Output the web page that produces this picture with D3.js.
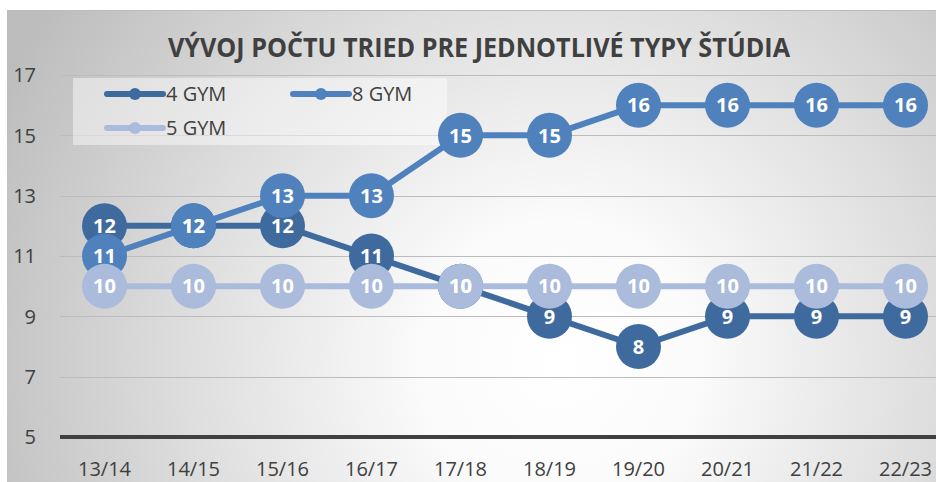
<!DOCTYPE html>
<html>
<head>
<meta charset="utf-8">
<script src="https://cdn.jsdelivr.net/npm/d3@7"></script>
<style>
  html, body { margin: 0; padding: 0; background: #fff; }
  svg { display: block; }
  text { font-family: "Open Sans", "DejaVu Sans", sans-serif; }
</style>
</head>
<body>
<div id="chart"></div>
<script>
const categories = ["13/14","14/15","15/16","16/17","17/18","18/19","19/20","20/21","21/22","22/23"];
const gym4 = [12,12,12,11,10,9,8,9,9,9];
const gym8 = [11,12,13,13,15,15,16,16,16,16];
const gym5 = [10,10,10,10,10,10,10,10,10,10];
const yTicks = [5,7,9,11,13,15,17];
const seriesNames = ["4 GYM","8 GYM","5 GYM"];
const seriesColors = ["#3F6A9D","#4F81BD","#AABBDB"];
const title = "VÝVOJ POČTU TRIED PRE JEDNOTLIVÉ TYPY ŠTÚDIA";

const W = 936, H = 482;
const series = [
  {name: seriesNames[0], values: gym4, color: seriesColors[0]},
  {name: seriesNames[1], values: gym8, color: seriesColors[1]},
  {name: seriesNames[2], values: gym5, color: seriesColors[2]}
];

const svg = d3.select("#chart").append("svg").attr("width", W).attr("height", H);
const defs = svg.append("defs");
const rg = defs.append("radialGradient").attr("id","bg")
  .attr("gradientUnits","userSpaceOnUse")
  .attr("cx", 560).attr("cy", 360).attr("r", 620);
rg.append("stop").attr("offset","0%").attr("stop-color","#ffffff");
rg.append("stop").attr("offset","22%").attr("stop-color","#fbfbfb");
rg.append("stop").attr("offset","60%").attr("stop-color","#dedede");
rg.append("stop").attr("offset","100%").attr("stop-color","#bdbdbd");

svg.append("rect").attr("x",7).attr("y",10).attr("width",W-7).attr("height",H-10)
  .attr("fill","url(#bg)");
svg.append("line").attr("x1",7).attr("x2",W).attr("y1",10.5).attr("y2",10.5)
  .attr("stroke","#bcbcbc").attr("stroke-width",1);

const x = d3.scaleBand().domain(categories).range([60, 950]);
const cx = d => x(d) + x.bandwidth()/2;
const y = d3.scaleLinear().domain([5,17]).range([437, 75]);

// gridlines
svg.append("g").selectAll("line").data(yTicks.filter(t => t !== 5)).join("line")
  .attr("x1",60).attr("x2",W).attr("y1",d=>Math.round(y(d))+0.5).attr("y2",d=>Math.round(y(d))+0.5)
  .attr("stroke","#bcbcbc").attr("stroke-width",1.2);

// baseline
svg.append("line").attr("x1",60).attr("x2",W).attr("y1",y(5)).attr("y2",y(5))
  .attr("stroke","#404040").attr("stroke-width",4);

// y tick labels
svg.append("g").selectAll("text").data(yTicks).join("text")
  .attr("x",36).attr("y",d=>y(d)).attr("dy","0.36em").attr("text-anchor","end")
  .attr("font-size",20).attr("fill","#404040").text(d=>d);

// x tick labels
svg.append("g").selectAll("text").data(categories).join("text")
  .attr("x",d=>cx(d)).attr("y",469).attr("dy","0.36em").attr("text-anchor","middle")
  .attr("font-size",20).attr("fill","#404040").text(d=>d);

// title
svg.append("text").attr("x",479).attr("y",57).attr("text-anchor","middle")
  .attr("font-size",27).attr("font-weight","bold").attr("fill","#404040")
  .attr("textLength",622).attr("lengthAdjust","spacingAndGlyphs").text(title);

// legend
const lg = svg.append("g");
lg.append("rect").attr("x",73).attr("y",78).attr("width",374).attr("height",67)
  .attr("fill","#ffffff").attr("fill-opacity",0.45);
const legendPos = [{x:107,y:94},{x:293,y:94},{x:107,y:128}];
series.forEach((s,i) => {
  const p = legendPos[i];
  const g = lg.append("g").attr("transform",`translate(${p.x},${p.y})`);
  g.append("line").attr("x1",0).attr("x2",56).attr("stroke",s.color)
    .attr("stroke-width",6).attr("stroke-linecap","round");
  g.append("circle").attr("cx",28).attr("r",6).attr("fill",s.color);
  g.append("text").attr("x",59).attr("dy","0.36em").attr("font-size",20)
    .attr("fill","#404040").text(s.name);
});

// series
const line = d3.line().x((d,i)=>cx(categories[i])).y(d=>y(d));
const plot = svg.append("g");
series.forEach(s => {
  const g = plot.append("g");
  g.append("path").datum(s.values).attr("d",line).attr("fill","none")
    .attr("stroke",s.color).attr("stroke-width",6).attr("stroke-linejoin","round");
  g.selectAll("circle").data(s.values).join("circle")
    .attr("cx",(d,i)=>cx(categories[i])).attr("cy",d=>y(d)).attr("r",22.5)
    .attr("fill",s.color);
});
// labels on top
series.forEach(s => {
  plot.append("g").selectAll("text").data(s.values).join("text")
    .attr("x",(d,i)=>cx(categories[i])).attr("y",d=>y(d)).attr("dy","0.36em")
    .attr("text-anchor","middle").attr("font-size",20).attr("font-weight","bold")
    .attr("fill","#ffffff").text(d=>d);
});
</script>
</body>
</html>
